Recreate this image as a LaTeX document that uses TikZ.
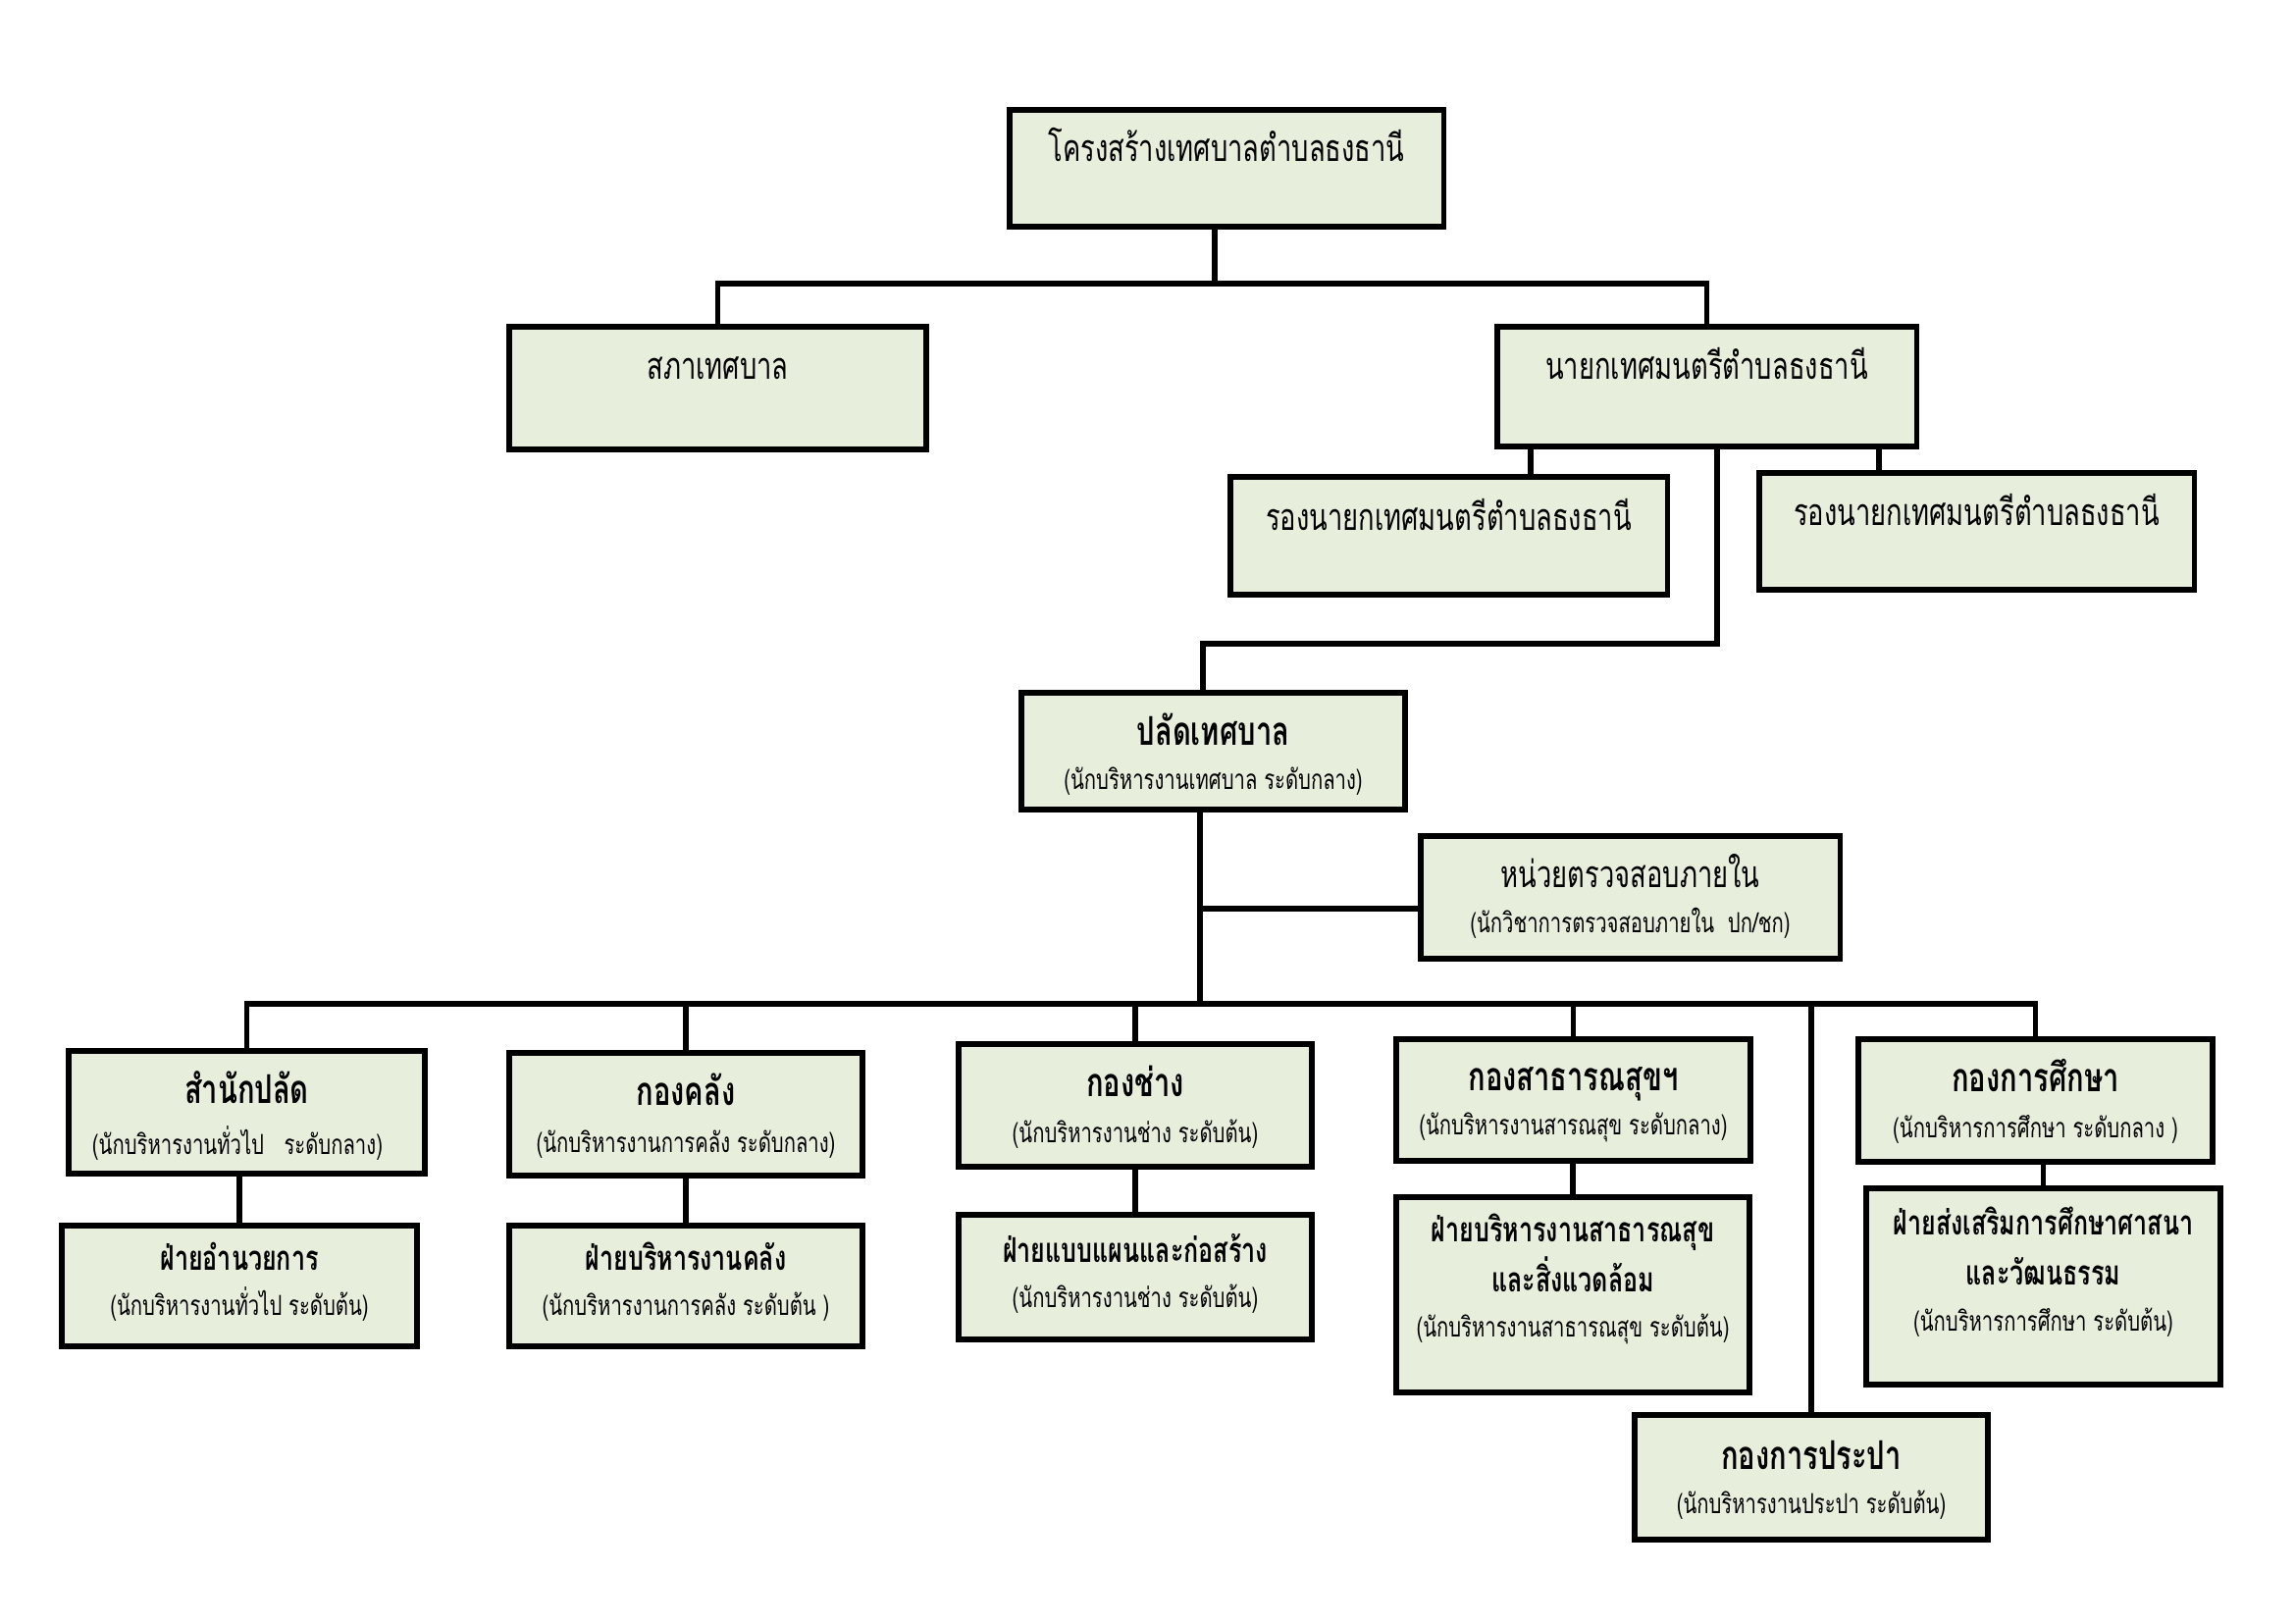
\documentclass[tikz,border=0pt]{standalone}
\usepackage{fontspec}
\newfontfamily\thai[Script=Thai,FakeStretch=0.72]{Loma}
\definecolor{boxfill}{RGB}{232,238,220}
\tikzset{
  box/.style={draw=black, line width=1.5pt, fill=boxfill, inner sep=0pt},
  conn/.style={draw=black, line width=1.5pt},
  maintxt/.style={font=\thai\fontsize{10.8}{13}\selectfont, anchor=mid, inner sep=0pt, yshift=-0.06cm},
  headtxt/.style={font=\thai\bfseries\fontsize{11.5}{13}\selectfont, anchor=mid, inner sep=0pt, yshift=-0.06cm},
  secttxt/.style={font=\thai\bfseries\fontsize{9.9}{12}\selectfont, anchor=mid, inner sep=0pt, yshift=-0.04cm},
  subtxt/.style={font=\thai\fontsize{8}{10}\selectfont, anchor=mid, inner sep=0pt, yshift=-0.02cm},
}
\begin{document}
\begin{tikzpicture}[x=0.01cm, y=-0.01cm]
\useasboundingbox (0,0) rectangle (2339,1654);
\fill[white] (0,0) rectangle (2339,1654);

% boxes
\node[box, minimum width=4.42cm, minimum height=1.19cm] (title) at (1250,171.5) {};
\node[box, minimum width=4.25cm, minimum height=1.25cm] (sapha) at (731.5,395.5) {};
\node[box, minimum width=4.27cm, minimum height=1.22cm] (nayok) at (1739.5,394) {};
\node[box, minimum width=4.45cm, minimum height=1.20cm] (rongL) at (1476.5,546) {};
\node[box, minimum width=4.43cm, minimum height=1.19cm] (rongR) at (2014.5,541.5) {};
\node[box, minimum width=3.91cm, minimum height=1.19cm] (palat) at (1236.5,765.5) {};
\node[box, minimum width=4.27cm, minimum height=1.25cm] (audit) at (1661.5,914.5) {};
\node[box, minimum width=3.63cm, minimum height=1.25cm] (d1) at (251.5,1133.5) {};
\node[box, minimum width=3.62cm, minimum height=1.23cm] (s1) at (244,1310.5) {};
\node[box, minimum width=3.60cm, minimum height=1.25cm] (d2) at (699,1135.5) {};
\node[box, minimum width=3.60cm, minimum height=1.23cm] (s2) at (699,1310.5) {};
\node[box, minimum width=3.60cm, minimum height=1.25cm] (d3) at (1157,1126.5) {};
\node[box, minimum width=3.60cm, minimum height=1.27cm] (s3) at (1157,1301.5) {};
\node[box, minimum width=3.61cm, minimum height=1.24cm] (d4) at (1603.5,1121) {};
\node[box, minimum width=3.60cm, minimum height=1.99cm] (s4) at (1603,1319.5) {};
\node[box, minimum width=3.61cm, minimum height=1.25cm] (d5) at (2074.5,1121.5) {};
\node[box, minimum width=3.61cm, minimum height=2.00cm] (s5) at (2082.5,1311) {};
\node[box, minimum width=3.60cm, minimum height=1.27cm] (d6) at (1846,1505.5) {};

% texts
\node[maintxt] (title-t) at (1250,151) {โครงสร้างเทศบาลตำบลธงธานี};
\node[maintxt] (sapha-t) at (731.5,373) {สภาเทศบาล};
\node[maintxt] (nayok-t) at (1739.5,373) {นายกเทศมนตรีตำบลธงธานี};
\node[maintxt] (rongL-t) at (1476.5,527) {รองนายกเทศมนตรีตำบลธงธานี};
\node[maintxt] (rongR-t) at (2014.5,522) {รองนายกเทศมนตรีตำบลธงธานี};
\node[headtxt] (palat-t) at (1236.5,746) {ปลัดเทศบาล};
\node[subtxt] (palat-s) at (1236.5,795) {(นักบริหารงานเทศบาล ระดับกลาง)};
\node[maintxt] (audit-t) at (1661.5,891) {หน่วยตรวจสอบภายใน};
\node[subtxt] (audit-s) at (1661.5,941) {(นักวิชาการตรวจสอบภายใน~~ปก/ชก)};
\node[headtxt] (d1-t) at (251.5,1111) {สำนักปลัด};
\node[subtxt] (d1-s) at (242,1167) {(นักบริหารงานทั่วไป~~~ระดับกลาง)};
\node[secttxt] (s1-t) at (244,1283) {ฝ่ายอำนวยการ};
\node[subtxt] (s1-s) at (244,1331) {(นักบริหารงานทั่วไป ระดับต้น)};
\node[headtxt] (d2-t) at (699,1113) {กองคลัง};
\node[subtxt] (d2-s) at (699,1165) {(นักบริหารงานการคลัง ระดับกลาง)};
\node[secttxt] (s2-t) at (699,1283) {ฝ่ายบริหารงานคลัง};
\node[subtxt] (s2-s) at (699,1331) {(นักบริหารงานการคลัง ระดับต้น )};
\node[headtxt] (d3-t) at (1157,1104) {กองช่าง};
\node[subtxt] (d3-s) at (1157,1155) {(นักบริหารงานช่าง ระดับต้น)};
\node[secttxt] (s3-t) at (1157,1275) {ฝ่ายแบบแผนและก่อสร้าง};
\node[subtxt] (s3-s) at (1157,1323) {(นักบริหารงานช่าง ระดับต้น)};
\node[headtxt] (d4-t) at (1603.5,1098) {กองสาธารณสุขฯ};
\node[subtxt] (d4-s) at (1603.5,1147) {(นักบริหารงานสารณสุข ระดับกลาง)};
\node[secttxt] (s4-t) at (1603,1254) {ฝ่ายบริหารงานสาธารณสุข};
\node[secttxt] (s4-t2) at (1603,1305) {และสิ่งแวดล้อม};
\node[subtxt] (s4-s) at (1603,1353) {(นักบริหารงานสาธารณสุข ระดับต้น)};
\node[headtxt] (d5-t) at (2074.5,1099) {กองการศึกษา};
\node[subtxt] (d5-s) at (2074.5,1150) {(นักบริหารการศึกษา ระดับกลาง )};
\node[secttxt] (s5-t) at (2082.5,1247) {ฝ่ายส่งเสริมการศึกษาศาสนา};
\node[secttxt] (s5-t2) at (2082.5,1298) {และวัฒนธรรม};
\node[subtxt] (s5-s) at (2082.5,1347) {(นักบริหารการศึกษา ระดับต้น)};
\node[headtxt] (d6-t) at (1846,1484) {กองการประปา};
\node[subtxt] (d6-s) at (1846,1533) {(นักบริหารงานประปา ระดับต้น)};

% connectors
\coordinate (j0) at (1238,289);
\draw[conn] (title.south -| j0) -- (j0);
\draw[conn] (sapha.north) |- (j0) -| (nayok.north);
\coordinate (xL) at (1560,0);
\coordinate (xR) at (1915,0);
\draw[conn] (nayok.south -| xL) -- (rongL.north -| xL);
\draw[conn] (nayok.south -| xR) -- (rongR.north -| xR);
\coordinate (k1) at (1750,656);
\coordinate (k2) at (1226,656);
\draw[conn] (nayok.south -| k1) -- (k1) -- (k2) -- (palat.north -| k2);
\coordinate (bus) at (1223,1023);
\coordinate (ja) at (1223,926);
\draw[conn] (palat.south -| bus) -- (bus);
\draw[conn] (ja) -- (audit.west |- ja);
\draw[conn] (d1.north) -- (d1.north |- bus) -- (d5.north |- bus) -- (d5.north);
\draw[conn] (d2.north |- bus) -- (d2.north);
\draw[conn] (d3.north |- bus) -- (d3.north);
\draw[conn] (d4.north |- bus) -- (d4.north);
\draw[conn] (d6.north |- bus) -- (d6.north);
\draw[conn] (s1.north) -- (s1.north |- d1.south);
\draw[conn] (s2.north) -- (s2.north |- d2.south);
\draw[conn] (s3.north) -- (s3.north |- d3.south);
\draw[conn] (s4.north) -- (s4.north |- d4.south);
\draw[conn] (s5.north) -- (s5.north |- d5.south);
\end{tikzpicture}
\end{document}
